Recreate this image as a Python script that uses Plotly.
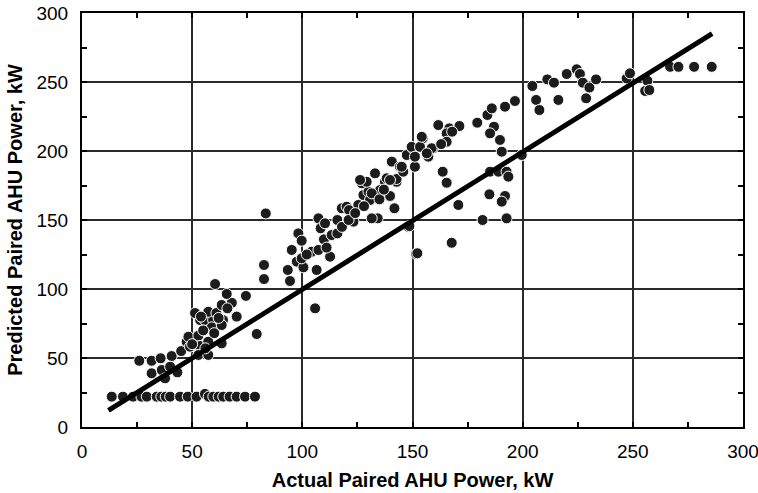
import plotly.graph_objects as go

# Scatter data: actual (x) vs predicted (y), kW
actual = [
    13.5, 18.6, 23.2, 27, 29.4, 33.9, 36, 38, 40, 44.5, 48, 52, 55.8, 57.5, 59.6, 62, 64.1, 67, 70.2, 74, 78.5,
    26, 31.6, 35.7, 40.7, 31.6, 36.2, 37.7, 43.3, 40, 45, 47.5, 49, 48.3, 52.8, 53.6, 57.3, 63.4, 52.8, 57.3,
    53.6, 55.8, 59.5, 64, 58.9, 63.4, 51.3, 57.3, 61, 63.4, 68, 65.7, 74.4, 60.4, 70.2, 79.3, 55, 60, 50, 56,
    66, 54, 62,
    83.4, 82.6, 82.6, 93.4, 94.4, 95.2, 98.2, 99.7, 97.5, 100.5, 99.7, 104.2, 107.3, 106.5, 105.8, 107.3,
    108.3, 109.8, 113.3, 115.9, 115.9, 117.9, 120.1, 121.2, 123.2, 125.4, 127.7, 127, 130, 130.7, 134.2,
    131.5, 135.3, 139.8, 141.8, 137.5, 142.8, 148.1, 151.6, 112.6, 110.3, 102, 111, 118, 121, 124, 128,
    133, 138.3, 129.2, 126.2, 131.5, 139.8, 140.6, 142.8, 139.8, 144.3, 145.8, 135, 137,
    147.4, 150.1, 151.1, 145.1, 154.6, 157.2, 159.2, 149.6, 153.4, 158.7, 151.1, 156.5, 154.2, 161.7, 166.7,
    171.3, 165.5, 165.5, 163, 168, 163.7, 165.5, 170.8, 167.8, 152.2, 148.6, 179.4, 184, 186, 192, 196.5,
    187, 185.2, 189.7, 190.5, 185.2, 189, 192.7, 193.5, 184.9, 192, 190.5, 181.8, 192.7, 199.6, 204.4,
    206.1, 207.6, 211.2, 214.2, 216.2, 220, 224.5, 226, 227.3, 230.3, 228.8, 233.3, 247.2, 248.7, 256.6,
    255.6, 257.5, 266.9, 270.7, 277.8, 285.8,
]
predicted = [
    22, 22, 22, 22, 22, 22, 22, 22, 22, 22, 22, 22, 24, 22, 22, 22, 22, 22, 22, 22, 22,
    48, 48, 49.8, 51.4, 38.9, 41.3, 35.3, 39.6, 43.7, 55, 61.8, 58.2, 65.4, 66.2, 58.7, 61.8, 60.6, 52.2, 52.2,
    77.5, 77.5, 77.5, 77.5, 72.2, 73.9, 82.6, 83.5, 82.6, 88.4, 90, 96.4, 95, 103.6, 80, 67.4, 70, 68, 60, 57,
    86, 80, 79,
    154.8, 117.4, 107.2, 113.8, 105.8, 128.3, 140.3, 135, 119.8, 115.7, 122.2, 127, 128.3, 113.8, 86, 151.2,
    144, 136, 139.1, 140.3, 150, 158.5, 159.6, 157.2, 148.8, 160.9, 168.1, 176.6, 170.5, 164.5, 151.2,
    151.2, 171.7, 166.9, 158.5, 177.7, 177.7, 145.1, 125.4, 123.4, 147.6, 125, 130, 145, 150, 155, 160,
    183.8, 180.2, 177.7, 179, 169.3, 167.4, 192.3, 179.7, 179, 188.6, 185, 165, 172,
    197.1, 201.9, 188.6, 188.6, 209.2, 195.9, 201.9, 203, 203, 202, 195.9, 198.3, 210.3, 218.8, 216.4,
    218.1, 212.8, 206.7, 205, 214, 185, 177, 160.9, 133.5, 125.9, 145.6, 220.5, 226.1, 230.9, 232.1, 236.2,
    217.6, 212.8, 208, 199.5, 185, 185, 185, 181.4, 168.6, 167.4, 163.3, 150, 151.2, 197.1, 247.1,
    237, 229.7, 251.9, 249.5, 237, 255.8, 259.2, 255.8, 249.5, 246, 238.2, 251.9, 252.6, 256.3, 250.9,
    243.5, 244.2, 261, 261, 261, 261,
]

# Fit line end points
fit_x = [12, 286]
fit_y = [12, 285]

tick_vals = [0, 50, 100, 150, 200, 250, 300]
tick_text = ["0", "50", "100", "150", "200", "250", "300"]

fig = go.Figure()
fig.add_trace(go.Scatter(
    x=actual, y=predicted, mode="markers",
    marker=dict(size=11, color="#1c1c1c", line=dict(color="white", width=1)),
    showlegend=False, hoverinfo="x+y",
))
fig.add_trace(go.Scatter(
    x=fit_x, y=fit_y, mode="lines",
    line=dict(color="black", width=5),
    showlegend=False,
))

axis_common = dict(
    range=[0, 300],
    tickvals=tick_vals, ticktext=tick_text,
    showgrid=True, gridcolor="#2a2a2a", gridwidth=1.5,
    showline=True, linecolor="black", linewidth=2, mirror="allticks",
    ticks="inside", ticklen=0, tickcolor="black",
    minor=dict(ticks="inside", ticklen=5, tickwidth=1.5, tickcolor="black", dtick=25, tick0=0, showgrid=False),
    zeroline=False, automargin=False,
    ticklabeloverflow="allow",
    tickfont=dict(family="Liberation Sans, Arial, sans-serif", size=19, color="black"),
    title_font=dict(family="Liberation Sans, Arial, sans-serif", size=20, color="black"),
)

fig.update_xaxes(**axis_common,
                 title_text="<b>Actual Paired AHU Power, kW</b>",
                 title_standoff=12, ticklabelstandoff=6)
fig.update_yaxes(**axis_common,
                 title_text="<b>Predicted Paired AHU Power, kW</b>",
                 title_standoff=8, ticklabelstandoff=8)

fig.update_layout(
    width=758, height=493,
    margin=dict(l=82, r=15, t=13, b=66),
    plot_bgcolor="white", paper_bgcolor="white",
)

fig.write_html("out.html")
